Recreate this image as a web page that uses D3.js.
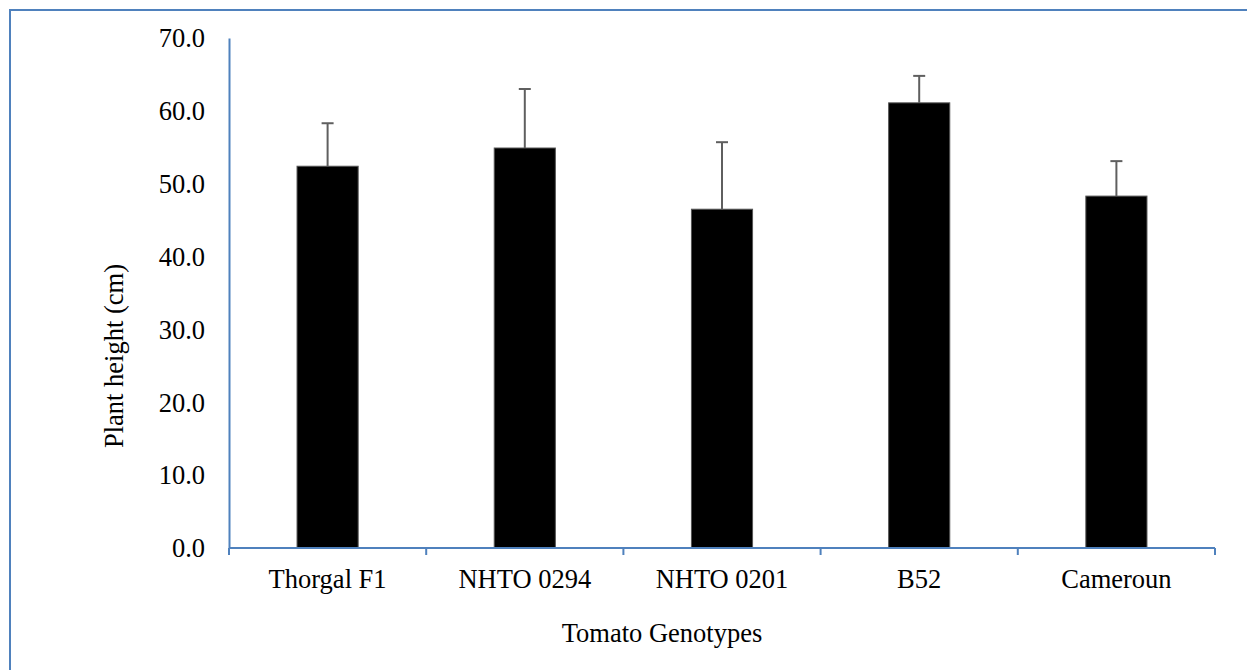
<!DOCTYPE html>
<html>
<head>
<meta charset="utf-8">
<script src="https://cdnjs.cloudflare.com/ajax/libs/d3/7.8.5/d3.min.js"></script>
<style>
html,body{margin:0;padding:0;background:#fff;}
svg{display:block;}
text{font-family:"Liberation Serif","Times New Roman",serif;fill:#000;}
</style>
</head>
<body>
<svg id="chart" width="1247" height="670"></svg>
<script>
const categories = ["Thorgal F1", "NHTO 0294", "NHTO 0201", "B52", "Cameroun"];
const means = [52.4, 54.9, 46.5, 61.1, 48.3];
const errors = [5.9, 8.1, 9.2, 3.7, 4.8];
const yTicks = [0, 10, 20, 30, 40, 50, 60, 70];
const yLabel = "Plant height (cm)";
const xLabel = "Tomato Genotypes";

const svg = d3.select("#chart");
const blue = "#4f81bd";
const fs = 26.5;
const mLeft = 229, mRight = 1215, mTop = 38, mBottom = 548;

// outer frame (top and left edges visible)
svg.append("path")
  .attr("d", `M10,670 L10,10 L1247,10`)
  .attr("fill", "none").attr("stroke", blue).attr("stroke-width", 2);

const x = d3.scaleBand().domain(categories).range([mLeft, mRight]).paddingInner(0.69).paddingOuter(0.345);
const y = d3.scaleLinear().domain([0, 70]).range([mBottom, mTop]);

// bars
svg.append("g").selectAll("rect").data(categories).join("rect")
  .attr("x", d => x(d))
  .attr("y", (d, i) => y(means[i]))
  .attr("width", x.bandwidth())
  .attr("height", (d, i) => y(0) - y(means[i]))
  .attr("fill", "#000")
  .attr("stroke", "#555").attr("stroke-width", 1);

// error bars
const eg = svg.append("g").attr("stroke", "#5f5f5f").attr("stroke-width", 2);
categories.forEach((c, i) => {
  const cx = x(c) + x.bandwidth() / 2;
  eg.append("line").attr("x1", cx).attr("x2", cx).attr("y1", y(means[i])).attr("y2", y(means[i] + errors[i]));
  eg.append("line").attr("x1", cx - 6).attr("x2", cx + 6).attr("y1", y(means[i] + errors[i])).attr("y2", y(means[i] + errors[i]));
});

// y axis
const yAxis = d3.axisLeft(y).tickValues(yTicks).tickFormat(d3.format(".1f")).tickSize(0).tickPadding(24);
const yg = svg.append("g").attr("transform", `translate(${mLeft},0)`).call(yAxis);
yg.select(".domain").attr("stroke", blue).attr("stroke-width", 2);
yg.selectAll("text").attr("font-size", fs).attr("dy", "0.33em").style("font-family", "Liberation Serif");

// x axis
const xAxis = d3.axisBottom(x).tickSize(0).tickPadding(21);
const xg = svg.append("g").attr("transform", `translate(0,${mBottom})`).call(xAxis);
xg.select(".domain").attr("stroke", blue).attr("stroke-width", 2).attr("d", `M${mLeft},0H${mRight}`);
xg.selectAll("text").attr("font-size", fs).style("font-family", "Liberation Serif");
// category boundary ticks
const bounds = categories.map(c => x(c) - x.step() * x.paddingInner() / 2).concat([mRight]);
xg.selectAll("line.bound").data(bounds).join("line").attr("class", "bound")
  .attr("x1", d => d).attr("x2", d => d).attr("y1", 0).attr("y2", 7)
  .attr("stroke", blue).attr("stroke-width", 2);

// axis titles
svg.append("text").attr("x", 662).attr("y", 642).attr("text-anchor", "middle")
  .attr("font-size", fs).text(xLabel);
svg.append("text").attr("transform", "translate(123,356) rotate(-90)").attr("text-anchor", "middle")
  .attr("font-size", fs).text(yLabel);
</script>
</body>
</html>
